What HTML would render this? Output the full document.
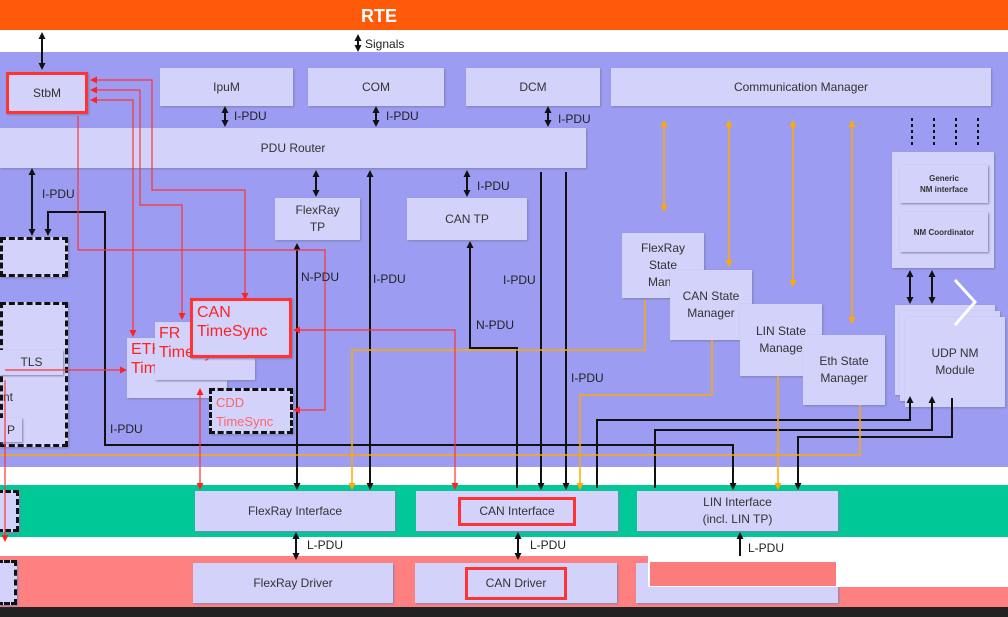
<!DOCTYPE html>
<html><head><style>
body{margin:0;width:1008px;height:617px;overflow:hidden;position:relative;font-family:"Liberation Sans",sans-serif;background:#fff}
.a{position:absolute}
.b{position:absolute;background:#d2d2fa;box-shadow:1px 1px 2px #8080b0;color:#333;font-size:12px;display:flex;align-items:center;justify-content:center;text-align:center;line-height:17px}
.r{color:#f22;font-size:16px;font-weight:normal;line-height:19px;text-align:left;justify-content:flex-start;align-items:flex-start;padding:2px 4px;box-sizing:border-box}
.d{border:3px dashed #111;box-sizing:border-box}
.l{position:absolute;font-size:12px;color:#222}
</style></head><body>
<div class="a" style="left:0;top:0;width:1008px;height:30px;background:#ff5a0a;color:#fff;font-weight:bold;font-size:18px;text-align:center;line-height:32px;padding-right:250px;box-sizing:border-box">RTE</div>
<div class="a" style="left:0;top:52px;width:1008px;height:415px;background:#9c9cf2"></div>
<div class="a" style="left:0;top:485px;width:1008px;height:52px;background:#00c896"></div>
<div class="a" style="left:0;top:556px;width:1008px;height:51px;background:#ff8080"></div>
<div class="a" style="left:0;top:607px;width:1008px;height:10px;background:#222"></div>

<div class="b" style="left:6px;top:72px;width:82px;height:42px;border:3px solid #f33;box-sizing:border-box">StbM</div>
<div class="b" style="left:160px;top:68px;width:133px;height:38px">IpuM</div>
<div class="b" style="left:308px;top:68px;width:136px;height:38px">COM</div>
<div class="b" style="left:466px;top:68px;width:134px;height:38px">DCM</div>
<div class="b" style="left:611px;top:68px;width:380px;height:38px">Communication Manager</div>
<div class="b" style="left:0;top:128px;width:586px;height:40px">PDU Router</div>
<div class="b" style="left:275px;top:198px;width:85px;height:42px">FlexRay<br>TP</div>
<div class="b" style="left:407px;top:198px;width:120px;height:42px">CAN TP</div>
<div class="b" style="left:892px;top:152px;width:102px;height:116px"></div>
<div class="b" style="left:900px;top:165px;width:88px;height:38px;font-size:8px;line-height:11px;font-weight:bold">Generic<br>NM interface</div>
<div class="b" style="left:900px;top:212px;width:88px;height:40px;font-size:8px;font-weight:bold">NM Coordinator</div>
<div class="b" style="left:622px;top:233px;width:82px;height:65px">FlexRay<br>State<br>Mana</div>
<div class="b" style="left:670px;top:270px;width:82px;height:70px">CAN State<br>Manager</div>
<div class="b" style="left:740px;top:304px;width:82px;height:72px">LIN State<br>Manage</div>
<div class="b" style="left:803px;top:335px;width:82px;height:70px">Eth State<br>Manager</div>
<div class="b" style="left:895px;top:305px;width:100px;height:90px"></div>
<div class="b" style="left:900px;top:311px;width:100px;height:90px"></div>
<div class="b" style="left:905px;top:317px;width:100px;height:90px">UDP NM<br>Module</div>
<div class="b d" style="left:0;top:237px;width:68px;height:40px"></div>
<div class="b d" style="left:0;top:302px;width:68px;height:145px;align-items:flex-end;justify-content:flex-start;padding-bottom:38px">nt</div>
<div class="b" style="left:0;top:350px;width:63px;height:25px">TLS</div>
<div class="b" style="left:0;top:418px;width:22px;height:24px">P</div>
<div class="b r" style="left:127px;top:338px;width:100px;height:60px">ETH<br>TimeSync</div>
<div class="b r" style="left:155px;top:322px;width:100px;height:58px">FR<br>TimeSync</div>
<div class="b r" style="left:190px;top:298px;width:102px;height:60px;border:3px solid #f33">CAN<br>TimeSync</div>
<div class="b r d" style="left:209px;top:388px;width:84px;height:46px;color:#f66;font-size:13px">CDD<br>TimeSync</div>

<div class="b" style="left:195px;top:491px;width:200px;height:40px">FlexRay Interface</div>
<div class="b" style="left:416px;top:491px;width:202px;height:40px"><span style="border:3px solid #f33;padding:3px 18px">CAN Interface</span></div>
<div class="b" style="left:637px;top:491px;width:201px;height:40px">LIN Interface<br>(incl. LIN TP)</div>
<div class="b" style="left:193px;top:563px;width:200px;height:40px">FlexRay Driver</div>
<div class="b" style="left:415px;top:563px;width:202px;height:40px"><span style="border:3px solid #f33;padding:5px 18px">CAN Driver</span></div>
<div class="b" style="left:636px;top:563px;width:202px;height:40px"></div>
<div class="b d" style="left:-3px;top:490px;width:22px;height:42px"></div>
<div class="b d" style="left:-3px;top:560px;width:20px;height:45px"></div>
<div class="a" style="left:648px;top:556px;width:360px;height:31px;background:#fff"></div>
<div class="a" style="left:650px;top:562px;width:186px;height:24px;background:#fc7b7b"></div>

<svg class="a" style="left:0;top:0" width="1008" height="617">
<defs>
<marker id="k" markerUnits="userSpaceOnUse" markerWidth="7" markerHeight="7" refX="5" refY="3.5" orient="auto-start-reverse"><path d="M0,0L7,3.5L0,7z" fill="#111"/></marker>
<marker id="rr" markerUnits="userSpaceOnUse" markerWidth="7" markerHeight="7" refX="5" refY="3.5" orient="auto-start-reverse"><path d="M0,0L7,3.5L0,7z" fill="#f22"/></marker>
<marker id="o" markerUnits="userSpaceOnUse" markerWidth="7" markerHeight="7" refX="5" refY="3.5" orient="auto-start-reverse"><path d="M0,0L7,3.5L0,7z" fill="#fa0"/></marker>
</defs>
<g stroke="#111" stroke-width="2" fill="none">
<path d="M42 34V68" marker-start="url(#k)" marker-end="url(#k)"/>
<path d="M358 36V50" marker-start="url(#k)" marker-end="url(#k)"/>
<path d="M225 108V125" marker-start="url(#k)" marker-end="url(#k)"/>
<path d="M376 108V125" marker-start="url(#k)" marker-end="url(#k)"/>
<path d="M548 108V125" marker-start="url(#k)" marker-end="url(#k)"/>
<path d="M316 172V195" marker-start="url(#k)" marker-end="url(#k)"/>
<path d="M467 172V195" marker-start="url(#k)" marker-end="url(#k)"/>
<path d="M32 170V234" marker-start="url(#k)" marker-end="url(#k)"/>
<path d="M48 234V212H105V445H733V488" marker-start="url(#k)" marker-end="url(#k)"/>
<path d="M297 245V488" marker-start="url(#k)" marker-end="url(#k)"/>
<path d="M370 172V488" marker-start="url(#k)" marker-end="url(#k)"/>
<path d="M470 243V348H517V488" marker-start="url(#k)"/>
<path d="M541 172V488" marker-end="url(#k)"/>
<path d="M566 172V488" marker-end="url(#k)"/>
<path d="M597 488V420H910V398" marker-end="url(#k)"/>
<path d="M655 488V430H932V398" marker-end="url(#k)"/>
<path d="M910 272V302" marker-start="url(#k)" marker-end="url(#k)"/>
<path d="M932 272V302" marker-start="url(#k)" marker-end="url(#k)"/>
<path d="M952 398V437H798V488" marker-end="url(#k)"/>
<path d="M296 534V558" marker-start="url(#k)" marker-end="url(#k)"/>
<path d="M518 534V558" marker-start="url(#k)" marker-end="url(#k)"/>
<path d="M740 534V556" marker-start="url(#k)"/>
<path d="M912 118V146M934 118V146M956 118V146M978 118V146" stroke-dasharray="3 3"/>
</g>
<g stroke="#fa0" stroke-width="1.5" fill="none">
<path d="M664 122V210" marker-start="url(#o)" marker-end="url(#o)"/>
<path d="M729 122V265" marker-start="url(#o)" marker-end="url(#o)"/>
<path d="M793 122V285" marker-start="url(#o)" marker-end="url(#o)"/>
<path d="M852 122V322" marker-start="url(#o)" marker-end="url(#o)"/>
<path d="M645 300V350H352V488" marker-end="url(#o)"/>
<path d="M712 340V395H580V488" marker-end="url(#o)"/>
<path d="M778 376V488" marker-end="url(#o)"/>
<path d="M0 455H860V405"/>
</g>
<g stroke="#f33" stroke-width="1.2" fill="none">
<path d="M92 80H152V190H245V298" marker-start="url(#rr)" marker-end="url(#rr)"/>
<path d="M92 90H140V205H182V318" marker-start="url(#rr)" marker-end="url(#rr)"/>
<path d="M92 100H133V335" marker-start="url(#rr)" marker-end="url(#rr)"/>
<path d="M78 116V250H325V410H295" marker-end="url(#rr)"/>
<path d="M325 330H295" marker-end="url(#rr)"/>
<path d="M5 370H125" marker-end="url(#rr)"/>
<path d="M200 390V488" marker-start="url(#rr)" marker-end="url(#rr)"/>
<path d="M300 330H455V488" marker-end="url(#rr)"/>
<path d="M5 380V540" marker-end="url(#rr)"/>
</g>
<polyline points="955,280 975,302 955,325" stroke="#fff" stroke-width="3" fill="none"/>
</svg>
<div class="l" style="left:365px;top:37px">Signals</div>
<div class="l" style="left:234px;top:109px">I-PDU</div>
<div class="l" style="left:386px;top:109px">I-PDU</div>
<div class="l" style="left:558px;top:112px">I-PDU</div>
<div class="l" style="left:42px;top:187px">I-PDU</div>
<div class="l" style="left:477px;top:179px">I-PDU</div>
<div class="l" style="left:301px;top:270px">N-PDU</div>
<div class="l" style="left:373px;top:272px">I-PDU</div>
<div class="l" style="left:503px;top:273px">I-PDU</div>
<div class="l" style="left:476px;top:318px">N-PDU</div>
<div class="l" style="left:571px;top:371px">I-PDU</div>
<div class="l" style="left:110px;top:422px">I-PDU</div>
<div class="l" style="left:307px;top:538px">L-PDU</div>
<div class="l" style="left:530px;top:538px">L-PDU</div>
<div class="l" style="left:748px;top:541px">L-PDU</div>
</body></html>
